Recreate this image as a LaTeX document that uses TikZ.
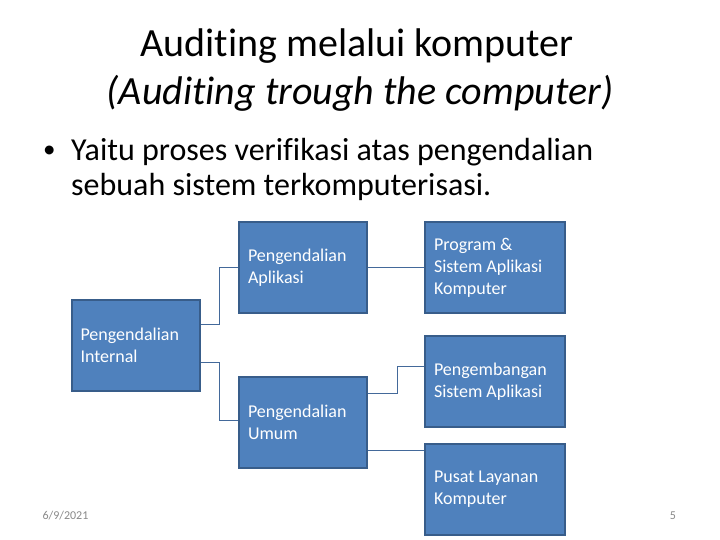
\documentclass[tikz,border=0pt]{standalone}
\usepackage{fontspec}
\setmainfont{Carlito}[Ligatures=NoCommon]
\definecolor{boxfill}{HTML}{4F81BD}
\definecolor{boxborder}{HTML}{385D8A}
\definecolor{linkcol}{HTML}{43699A}
\definecolor{footcol}{HTML}{898989}
\begin{document}
\begin{tikzpicture}[x=1pt,y=-1pt,
  box/.style={draw=boxborder, line width=2pt, fill=boxfill, text=white,
    font=\fontsize{18}{22}\selectfont, align=flush left, inner xsep=9pt, inner ysep=0pt,
    minimum height=91pt},
  lbox/.style={box, text width=110pt},
  rbox/.style={box, text width=122pt},
  link/.style={draw=linkcol, line width=1pt},
  titletext/.style={font=\fontsize{40}{48}\selectfont, anchor=base, inner sep=0pt},
  bodytext/.style={font=\fontsize{32}{35}\selectfont, anchor=base west, inner sep=0pt},
  foot/.style={font=\fontsize{12}{14}\selectfont, text=footcol, anchor=base, inner sep=0pt}]
\useasboundingbox (0,0) rectangle (720,540);
\fill[white] (0,0) rectangle (720,540);

\node[titletext] (t1) at (357,57) {Auditing melalui komputer};
\node[titletext] (t2) at (360,105) {\itshape (Auditing trough the computer)};

\node[bodytext, font=\fontsize{25}{30}\selectfont] (bul) at (43,158) {•};
\node[bodytext] (b1) at (71,161) {Yaitu proses verifikasi atas pengendalian};
\node[bodytext] (b2) at (71,196) {sebuah sistem terkomputerisasi.};

\node[lbox] (int) at (135.5,345.5) {Pengendalian\\Internal};
\node[lbox] (apl) at (303,267.5) {Pengendalian\\Aplikasi};
\node[lbox] (umum) at (303,422.5) {Pengendalian\\Umum};
\node[rbox] (prog) at (495,267.5) {Program \&\\Sistem Aplikasi\\Komputer};
\node[rbox] (peng) at (495,381.5) {Pengembangan\\Sistem Aplikasi};
\node[rbox] (pusat) at (495,489) {Pusat Layanan\\Komputer};

\draw[link] ([yshift=21.5pt]int.east) -- ++(19,0) |- (apl.west);
\draw[link] ([yshift=-16.5pt]int.east) -- ++(19,0) |- ([yshift=2.5pt]umum.west);
\draw[link] (apl.east) -- (prog.west);
\draw[link] ([yshift=29.5pt]umum.east) -- ++(29,0) |- ([yshift=15.5pt]peng.west);
\draw[link] ([yshift=-27.5pt]umum.east) -- ([yshift=-27.5pt]umum.east -| pusat.west);

\node[foot] (date) at (65.5,519) {6/9/2021};
\node[foot] (page) at (673,519) {5};
\end{tikzpicture}
\end{document}
